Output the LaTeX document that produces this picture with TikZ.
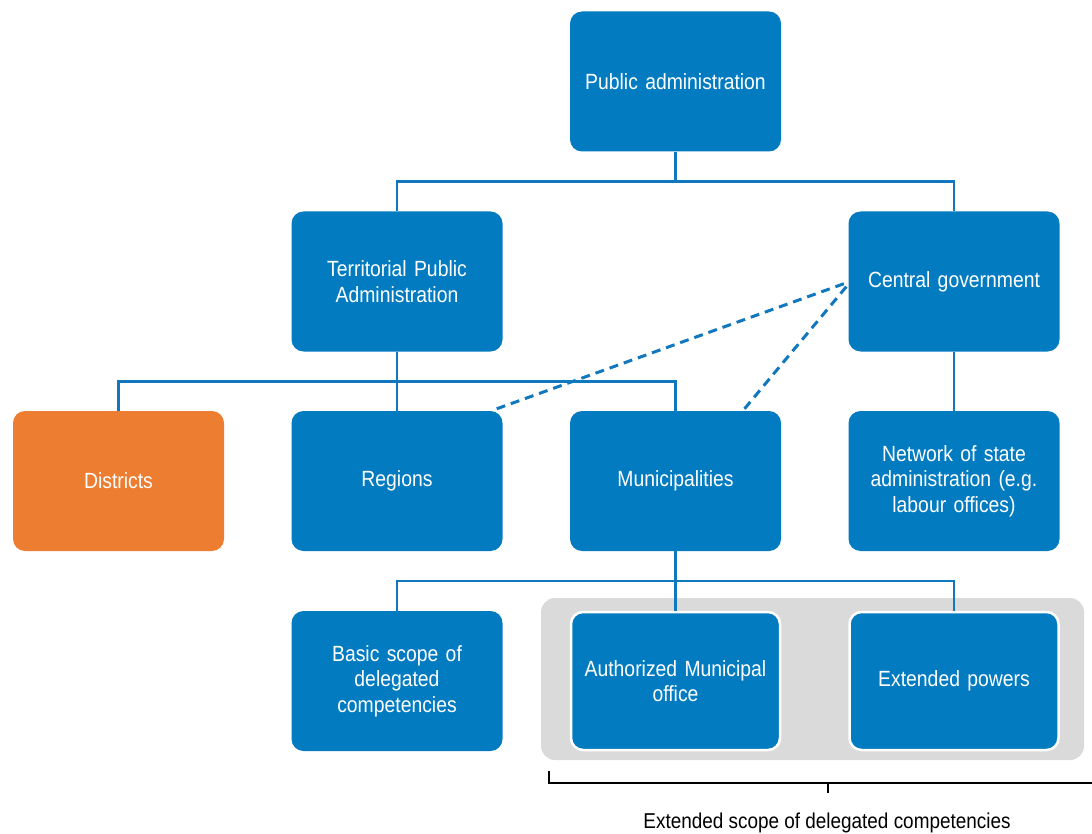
\documentclass[tikz,border=0pt]{standalone}
\usepackage{fontspec}
\setmainfont[FakeStretch=0.88]{Liberation Sans}
\usetikzlibrary{calc}
\definecolor{boxblue}{RGB}{2,123,193}
\definecolor{lineblue}{RGB}{18,120,190}
\definecolor{boxorange}{RGB}{237,125,49}
\definecolor{panelgray}{RGB}{218,218,218}
\tikzset{
  orgbox/.style={rectangle, rounded corners=12pt, fill=boxblue, text=white,
    minimum width=211pt, minimum height=140pt, inner sep=0pt, align=center,
    text width=195pt, font=\fontsize{22}{25.5}\selectfont},
  orangebox/.style={orgbox, fill=boxorange},
  framedbox/.style={orgbox, draw=white, line width=2.5pt, minimum width=209pt, minimum height=138pt},
  link/.style={draw=lineblue, line width=2.5pt},
  dashlink/.style={draw=lineblue, line width=3pt, dash pattern=on 9pt off 6pt},
  bracketline/.style={draw=black, line width=2pt}
}
\begin{document}
\begin{tikzpicture}[x=1pt, y=-1pt]
\useasboundingbox (0,0) rectangle (1092,834);
\clip (0,0) rectangle (1092,834);
% gray panel
\fill[panelgray, rounded corners=14pt] (541,598) rectangle (1084,760);
% nodes
\node[orgbox] (pa) at (675.5,81.5) {Public administration};
\node[orgbox] (tpa) at (397,281.5) {Territorial Public\\Administration};
\node[orgbox] (cg) at (954,281.5) {Central government};
\node[orangebox] (dist) at (118.5,481) {Districts};
\node[orgbox] (reg) at (397,481) {Regions};
\node[orgbox] (muni) at (675.5,481) {Municipalities};
\node[orgbox] (net) at (954,481) {Network of state\\administration (e.g.\\labour offices)};
\node[orgbox] (basic) at (397,681) {Basic scope of\\delegated\\competencies};
\node[framedbox] (auth) at (675.5,681) {Authorized Municipal\\office};
\node[framedbox] (ext) at (954,681) {Extended powers};
% connectors
\draw[link] (pa.south) -- ++(0,30) -| (tpa.north);
\draw[link] (pa.south) -- ++(0,30) -| (cg.north);
\draw[link] (tpa.south) -- ++(0,30) -| (dist.north);
\draw[link] (tpa.south) -- (reg.north);
\draw[link] (tpa.south) -- ++(0,30) -| (muni.north);
\draw[link] (cg.south) -- (net.north);
\draw[link] (muni.south) -- ++(0,30) -| (basic.north);
\draw[link] (muni.south) -- (auth.north);
\draw[link] (muni.south) -- ++(0,30) -| (ext.north);
\draw[dashlink] ($(reg.north east)+(-6,-2)$) -- ($(cg.west)+(-1,1)$);
\draw[dashlink] ($(muni.north)+(69,-2)$) -- ($(cg.west)+(-1,4)$);
% bracket
\coordinate (bl) at (549,771);
\coordinate (br) at (1100,783);
\coordinate (bt) at (828,783);
\draw[bracketline] (bl) |- (br);
\draw[bracketline] (bt) -- ++(0,10);
\node[anchor=base, font=\fontsize{21.5}{25.5}\selectfont, inner sep=0pt] (lbl) at (827,828) {Extended scope of delegated competencies};
\end{tikzpicture}
\end{document}
